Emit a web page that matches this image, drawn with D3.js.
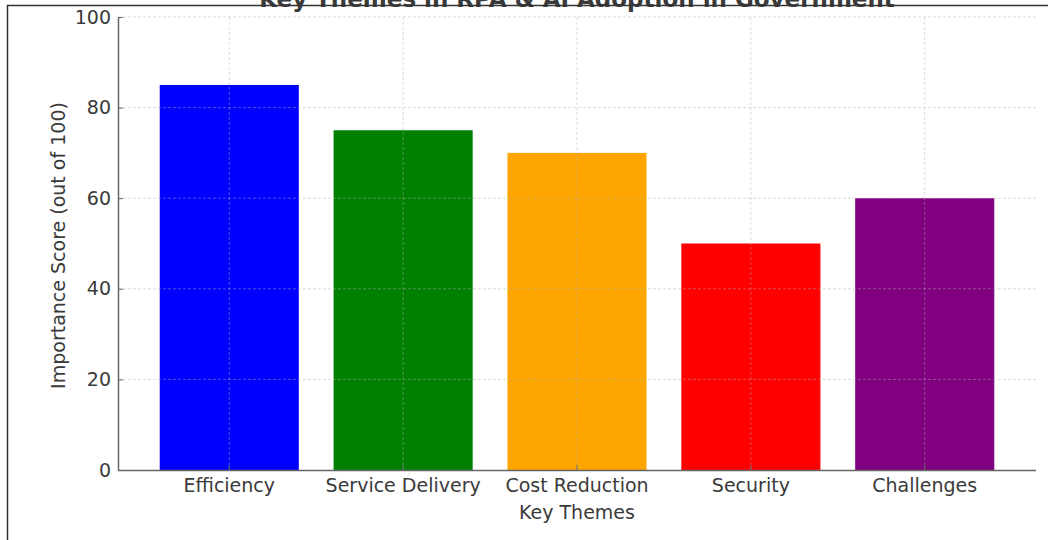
<!DOCTYPE html>
<html>
<head>
<meta charset="utf-8">
<script src="https://cdn.jsdelivr.net/npm/d3@7"></script>
<style>
  html, body { margin: 0; padding: 0; background: #fff; }
  svg { display: block; }
  text { font-family: "DejaVu Sans", sans-serif; }
</style>
</head>
<body>
<svg id="chart" width="1048" height="540"></svg>
<script>
const themes = ["Efficiency", "Service Delivery", "Cost Reduction", "Security", "Challenges"];
const scores = [85, 75, 70, 50, 60];
const barColors = ["#0000ff", "#008000", "#ffa500", "#ff0000", "#800080"];
const yTicks = [0, 20, 40, 60, 80, 100];

const title = "Key Themes in RPA & AI Adoption in Government";
const xLabel = "Key Themes";
const yLabel = "Importance Score (out of 100)";

const svg = d3.select("#chart");
const plotLeft = 118, plotRight = 1036, plotTop = 17, plotBottom = 470;
const textColor = "#3a3a3a";

// band scale: bars take 0.8 of each slot, 5% margin on both sides of the bar span
const step = (plotRight - plotLeft) / (themes.length - 0.2 + 0.48);
const x = d3.scaleBand()
  .domain(themes)
  .range([plotLeft + step * 0.24, plotRight - step * 0.24])
  .paddingInner(0.2)
  .paddingOuter(0);
const y = d3.scaleLinear().domain([0, 100]).range([plotBottom, plotTop]);

// bars
svg.append("g").selectAll("rect")
  .data(themes)
  .join("rect")
  .attr("x", d => x(d))
  .attr("width", x.bandwidth())
  .attr("y", (d, i) => y(scores[i]))
  .attr("height", (d, i) => y(0) - y(scores[i]))
  .attr("fill", (d, i) => barColors[i]);

// dashed grid drawn over the bars
const grid = svg.append("g")
  .attr("stroke", "#b0b0b0")
  .attr("stroke-opacity", 0.45)
  .attr("stroke-width", 1)
  .attr("stroke-dasharray", "3,2");
grid.selectAll("line.h")
  .data(yTicks.filter(t => t > 0))
  .join("line")
  .attr("class", "h")
  .attr("x1", plotLeft).attr("x2", plotRight)
  .attr("y1", d => y(d)).attr("y2", d => y(d));
grid.selectAll("line.v")
  .data(themes)
  .join("line")
  .attr("class", "v")
  .attr("x1", d => x(d) + x.bandwidth() / 2)
  .attr("x2", d => x(d) + x.bandwidth() / 2)
  .attr("y1", plotTop).attr("y2", plotBottom);

// axes, ticks pointing inward
const yAxis = svg.append("g")
  .attr("transform", `translate(${plotLeft},0)`)
  .call(d3.axisLeft(y).tickValues(yTicks).tickSizeInner(-5).tickSizeOuter(0).tickPadding(7));
const xAxis = svg.append("g")
  .attr("transform", `translate(0,${plotBottom})`)
  .call(d3.axisBottom(x).tickSizeInner(-5).tickSizeOuter(0).tickPadding(9));
xAxis.select(".domain").attr("d", `M${plotLeft},0.5H${plotRight}`);

[yAxis, xAxis].forEach(ax => {
  ax.select(".domain").attr("stroke", "#666").attr("stroke-width", 1.5);
  ax.selectAll(".tick line").attr("stroke", "#666");
  ax.selectAll(".tick text")
    .attr("fill", textColor)
    .style("font-size", "19px")
    .style("font-family", "'DejaVu Sans', sans-serif");
});

// axis labels
svg.append("text")
  .attr("x", (plotLeft + plotRight) / 2)
  .attr("y", 519)
  .attr("text-anchor", "middle")
  .attr("fill", textColor)
  .style("font-size", "19px")
  .text(xLabel);
svg.append("text")
  .attr("transform", `translate(65,${(plotTop + plotBottom) / 2 + 2}) rotate(-90)`)
  .attr("text-anchor", "middle")
  .attr("fill", textColor)
  .style("font-size", "19px")
  .text(yLabel);

// title, running off the top edge
svg.append("text")
  .attr("x", (plotLeft + plotRight) / 2)
  .attr("y", 7)
  .attr("text-anchor", "middle")
  .attr("fill", textColor)
  .style("font-size", "23px")
  .style("font-weight", "bold")
  .text(title);

// outer frame (top and left edges)
svg.append("path")
  .attr("d", "M7.5,540V5.5H1048")
  .attr("fill", "none")
  .attr("stroke", "#333")
  .attr("stroke-width", 1.5);
</script>
</body>
</html>
